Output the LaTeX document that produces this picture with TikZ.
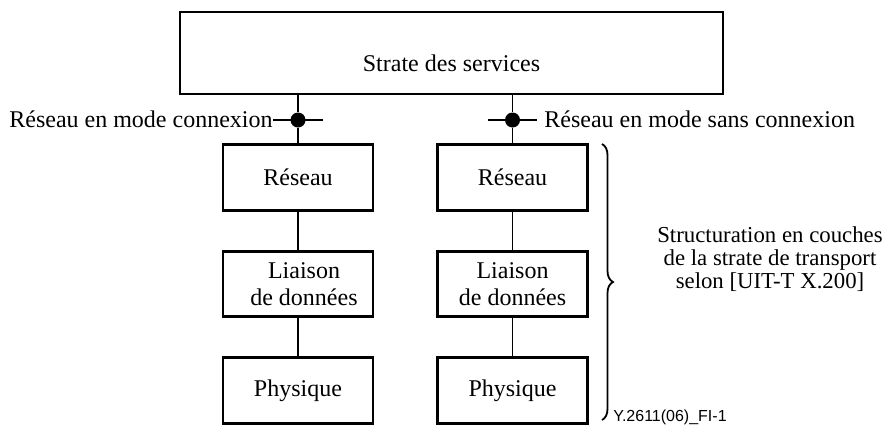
\documentclass[tikz,border=0pt]{standalone}
\usepackage{fontspec}
\setmainfont{Liberation Serif}
\newfontfamily\idfont{Liberation Sans}
\usetikzlibrary{decorations.pathreplacing}

\begin{document}
\begin{tikzpicture}[x=0.5pt,y=-0.5pt,
  textfont/.style={font=\fontsize{12}{13.5}\selectfont},
  boxframe/.style={draw,line width=1.3pt,inner sep=0pt},
  layer/.style={boxframe,textfont,align=center,minimum width=75pt,minimum height=32.75pt},
  link/.style={line width=0.75pt},
  junction/.style={circle,fill=black,inner sep=0pt,minimum size=7.5pt},
  plain/.style={textfont,inner sep=0pt},
  bracetext/.style={font=\fontsize{11.4}{11.6}\selectfont,align=center,inner sep=0pt}]

\useasboundingbox (0,0) rectangle (889,425);

% service stratum
\node[boxframe,minimum width=271.5pt,minimum height=41pt] (svc) at (451.5,53) {};
\node[plain,anchor=base] (svctext) at (451.5,71) {Strate des services};

% two protocol stacks
\node[layer] (netL) at (298,177.5) {Réseau};
\node[layer] (dllL) at (298,284) {\hspace*{6pt}Liaison\\\hspace*{6pt}de données};
\node[layer] (phyL) at (298,390.5) {Physique};

\node[layer] (netR) at (512.5,177.5) {Réseau};
\node[layer] (dllR) at (512.5,284) {Liaison\\de données};
\node[layer] (phyR) at (512.5,390.5) {Physique};

% junction points
\node[junction] (dl) at (298,120) {};
\node[junction] (dr) at (512.5,120) {};

\node[plain,anchor=base east] (lblL) at (273,127) {Réseau en mode connexion};
\node[plain,anchor=base west] (lblR) at (544,127) {Réseau en mode sans connexion};

% ends of the short crossbars at the junctions
\coordinate (tickL) at (323,120);
\coordinate (tickR) at (488,120);
\coordinate (tickRend) at (537,120);

% connectors
\draw[link] (svc.south -| dl) -- (dl) -- (netL.north);
\draw[link] (svc.south -| dr) -- (dr) -- (netR.north);
\draw[link] (dl -| lblL.east) -- (tickL);
\draw[link] (tickR) -- (tickRend);
\draw[link] (netL) -- (dllL);
\draw[link] (dllL) -- (phyL);
\draw[link] (netR) -- (dllR);
\draw[link] (dllR) -- (phyR);

% brace over the layered transport stratum
\coordinate (braceTop) at (602,144);
\coordinate (braceBot) at (602,420);
\draw[line width=0.9pt,decorate,decoration={brace,amplitude=5.5pt}] (braceTop) -- (braceBot);

\node[bracetext] (layering) at (770,259) {Structuration en couches\\de la strate de transport\\selon [UIT-T X.200]};

\node[font=\idfont\fontsize{8}{9}\selectfont,inner sep=0pt,anchor=base west] (figid) at (613,421) {Y.2611(06)\_FI-1};

\end{tikzpicture}
\end{document}
